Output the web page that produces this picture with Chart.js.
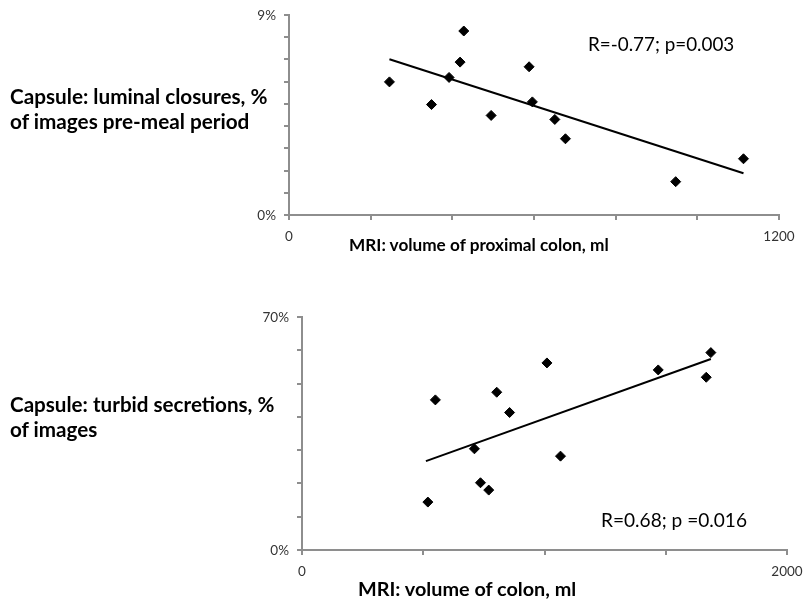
<!DOCTYPE html>
<html>
<head>
<meta charset="utf-8">
<script src="https://cdn.jsdelivr.net/npm/chart.js@4.4.1/dist/chart.umd.min.js"></script>
<style>
  html, body { margin: 0; padding: 0; background: #fff; }
  #wrap { position: relative; width: 803px; height: 601px; overflow: hidden; font-family: Lato, "Open Sans", sans-serif; }
  canvas { position: absolute; left: 0; }
  .lbl { position: absolute; white-space: nowrap; color: #000; }
  .ytitle { font-weight: bold; font-size: 20px; line-height: 25px; }
  .xtitle { font-weight: bold; font-size: 19px; line-height: 24px; }
  .note { font-size: 20px; line-height: 24px; }
</style>
</head>
<body>
<div id="wrap">
  <canvas id="top" width="803" height="300" style="top:0;width:803px;height:300px"></canvas>
  <canvas id="bottom" width="803" height="301" style="top:300px;width:803px;height:301px"></canvas>

  <div id="t-ytitle" class="lbl ytitle" style="left:10px;top:84px">Capsule: luminal closures, %<br>of images pre-meal period</div>
  <div id="t-xtitle" class="lbl xtitle" style="left:349px;top:233px">MRI: volume of proximal colon, ml</div>
  <div id="t-note" class="lbl note" style="left:588px;top:32px">R=-0.77; p=0.003</div>

  <div id="b-ytitle" class="lbl ytitle" style="left:10px;top:392px">Capsule: turbid secretions, %<br>of images</div>
  <div id="b-xtitle" class="lbl xtitle" style="left:358px;top:576px">MRI: volume of colon, ml</div>
  <div id="b-note" class="lbl note" style="left:601px;top:508px">R=0.68; p =0.016</div>
</div>

<script>
  'use strict';

  /* ---- data: top panel (luminal closures vs proximal colon volume) ---- */
  var closureVolume = [246, 349, 392, 419, 428, 495, 588, 596, 651, 677, 947, 1113];
  var closurePct    = [5.99, 4.97, 6.19, 6.88, 8.28, 4.48, 6.67, 5.09, 4.30, 3.43, 1.50, 2.53];
  var closureTrendX = [246, 1113];
  var closureTrendY = [7.01, 1.88];
  var closureXTicks = [0, 1200];
  var closureXLabels = ['0', '1200'];
  var closureYTicks = [0, 9];
  var closureYLabels = ['0%', '9%'];

  /* ---- data: bottom panel (turbid secretions vs colon volume) ---- */
  var turbidVolume = [519, 550, 711, 736, 770, 803, 856, 1010, 1066, 1469, 1667, 1686];
  var turbidPct    = [14.4, 45.1, 30.4, 20.2, 18.0, 47.4, 41.3, 56.2, 28.2, 54.1, 51.9, 59.3];
  var turbidTrendX = [511, 1686];
  var turbidTrendY = [26.7, 57.4];
  var turbidXTicks = [0, 2000];
  var turbidXLabels = ['0', '2000'];
  var turbidYTicks = [0, 70];
  var turbidYLabels = ['0%', '70%'];

  var AXIS_COLOR = '#8e8e8e';

  var textWidths = {
    't-ytitle': 258, 't-xtitle': 260, 't-note': 146,
    'b-ytitle': 265, 'b-xtitle': 218, 'b-note': 146
  };

  function fitText() {
    Object.keys(textWidths).forEach(function (id) {
      var el = document.getElementById(id);
      var size = parseFloat(getComputedStyle(el).fontSize);
      el.style.fontSize = (size * textWidths[id] / el.offsetWidth).toFixed(2) + 'px';
    });
  }

  function toPoints(xs, ys) {
    return xs.map(function (x, i) { return { x: x, y: ys[i] }; });
  }

  // draws the end-of-axis tick labels (only min and max are labelled)
  var edgeLabels = {
    id: 'edgeLabels',
    afterDraw: function (chart, args, opts) {
      var ctx = chart.ctx;
      var xs = chart.scales.x, ys = chart.scales.y;
      var area = chart.chartArea;
      ctx.save();
      ctx.fillStyle = '#333';
      ctx.font = '13.5px Lato, "Open Sans", sans-serif';
      ctx.textBaseline = 'middle';
      ctx.textAlign = 'center';
      opts.xTicks.forEach(function (v, i) {
        ctx.fillText(opts.xLabels[i], xs.getPixelForValue(v), area.bottom + 22);
      });
      ctx.textAlign = 'right';
      opts.yTicks.forEach(function (v, i) {
        ctx.fillText(opts.yLabels[i], area.left - 13, ys.getPixelForValue(v) + 1);
      });
      ctx.restore();
    }
  };

  function axis(max, step) {
    return {
      type: 'linear',
      min: 0,
      max: max,
      ticks: { display: false, stepSize: step },
      grid: { drawOnChartArea: false, drawTicks: true, tickLength: 5, color: AXIS_COLOR, lineWidth: 2 },
      border: { display: true, color: AXIS_COLOR, width: 2 }
    };
  }

  function makeChart(id, d) {
    var xAxis = axis(d.xMax, d.xStep);
    xAxis.afterFit = function (s) { s.height = 10; };
    var yAxis = axis(d.yMax, d.yStep);
    yAxis.afterFit = function (s) { s.width = 10; };

    return new Chart(document.getElementById(id), {
      type: 'scatter',
      data: {
        datasets: [
          {
            data: toPoints(d.xs, d.ys),
            pointStyle: 'rectRot',
            pointRadius: 5,
            backgroundColor: '#000',
            borderColor: '#000',
            borderWidth: 1
          },
          {
            data: toPoints(d.trendX, d.trendY),
            showLine: true,
            pointRadius: 0,
            borderColor: '#000',
            borderWidth: 2
          }
        ]
      },
      options: {
        responsive: false,
        animation: false,
        events: [],
        layout: { autoPadding: false, padding: d.padding },
        plugins: {
          legend: { display: false },
          tooltip: { enabled: false },
          edgeLabels: { xTicks: d.xTicks, xLabels: d.xLabels, yTicks: d.yTicks, yLabels: d.yLabels }
        },
        scales: { x: xAxis, y: yAxis }
      },
      plugins: [edgeLabels]
    });
  }

  fitText();

  makeChart('top', {
    xs: closureVolume, ys: closurePct,
    trendX: closureTrendX, trendY: closureTrendY,
    xMax: 1200, xStep: 200, yMax: 9, yStep: 1,
    xTicks: closureXTicks, xLabels: closureXLabels,
    yTicks: closureYTicks, yLabels: closureYLabels,
    padding: { left: 279, right: 24, top: 15, bottom: 75 }
  });

  makeChart('bottom', {
    xs: turbidVolume, ys: turbidPct,
    trendX: turbidTrendX, trendY: turbidTrendY,
    xMax: 2000, xStep: 500, yMax: 70, yStep: 10,
    xTicks: turbidXTicks, xLabels: turbidXLabels,
    yTicks: turbidYTicks, yLabels: turbidYLabels,
    padding: { left: 292, right: 16, top: 17, bottom: 41 }
  });
</script>
</body>
</html>
